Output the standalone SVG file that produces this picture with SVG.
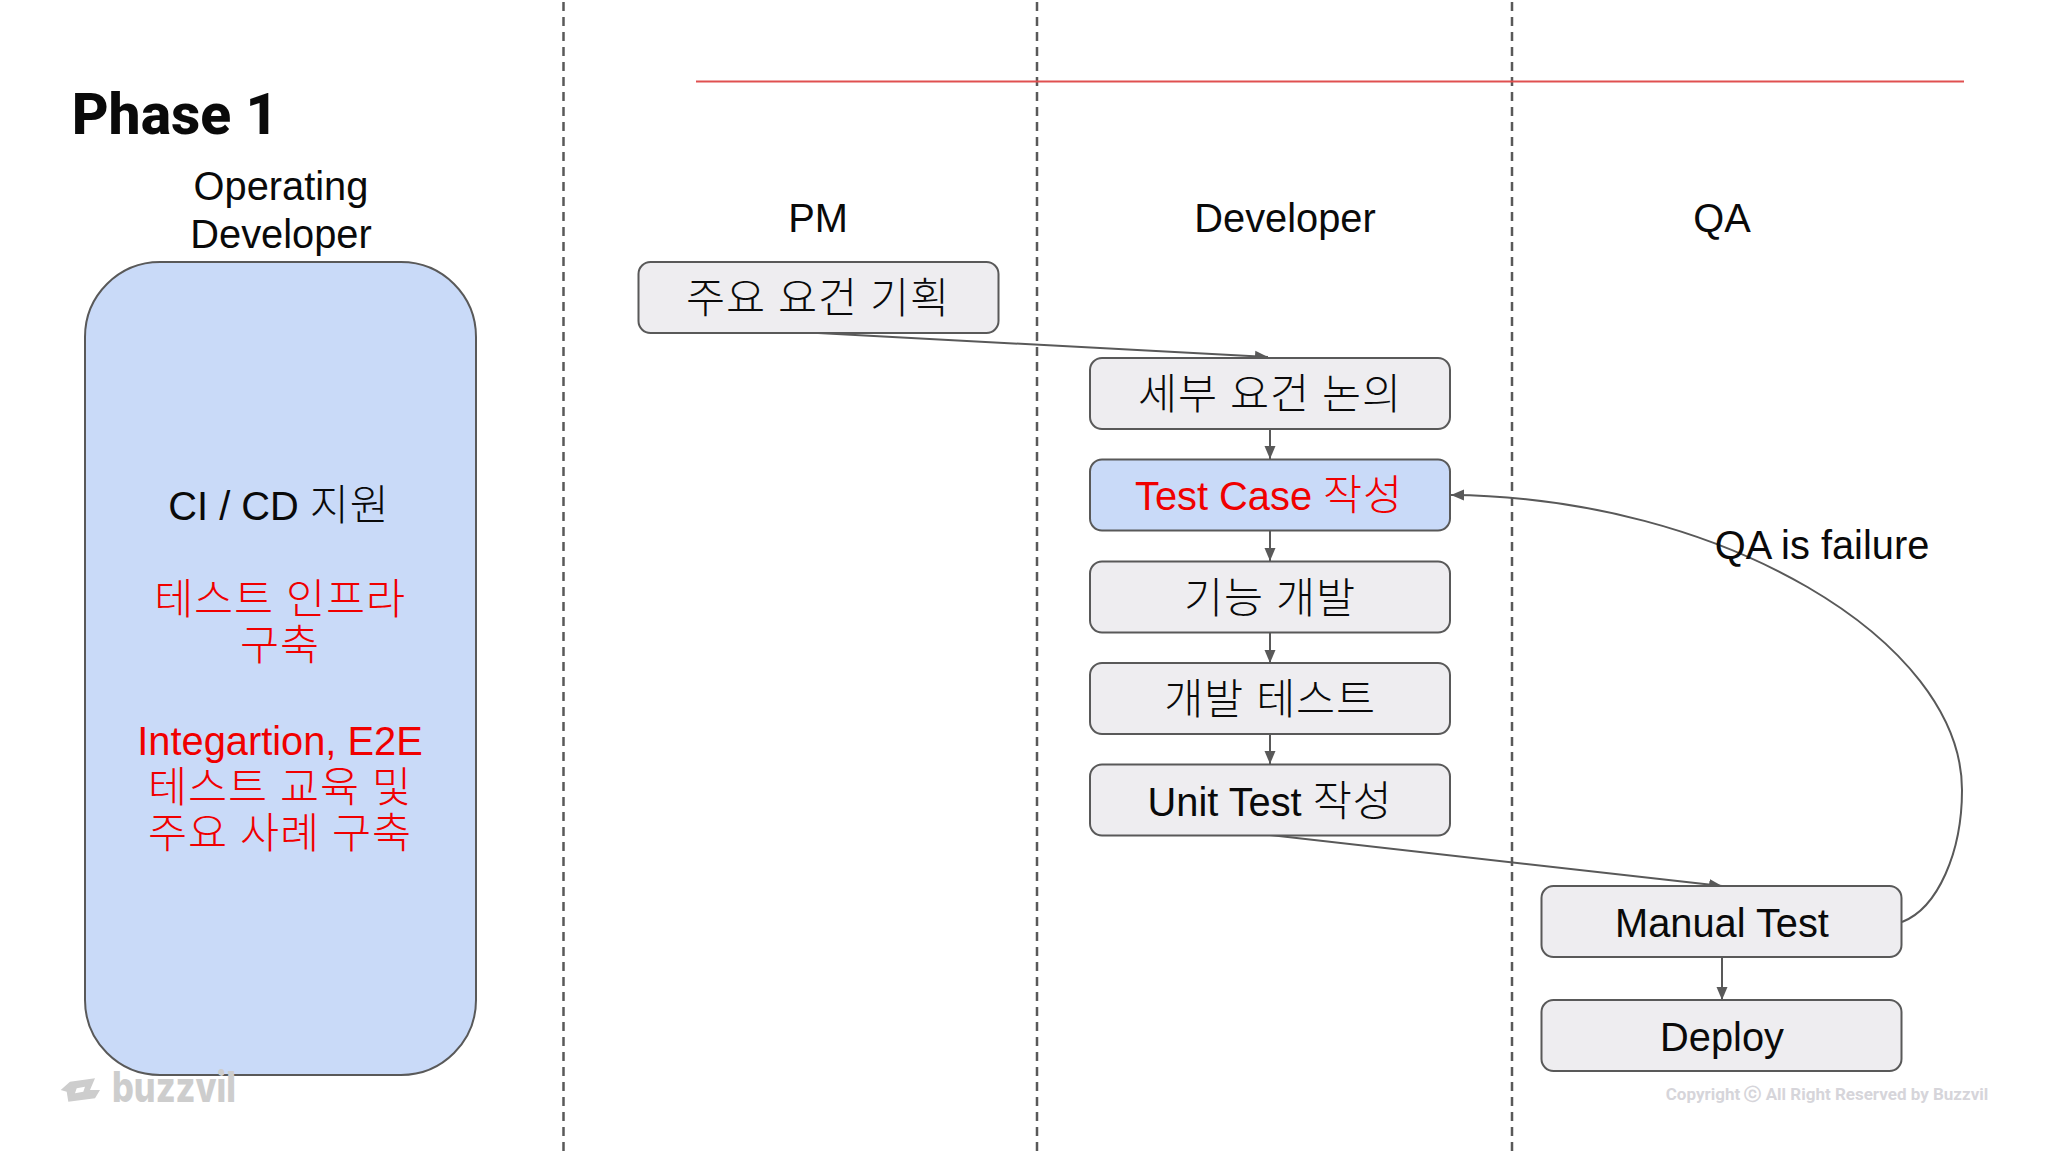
<svg xmlns="http://www.w3.org/2000/svg" width="2048" height="1152" viewBox="0 0 2048 1152">
<style>
text{font-family:"Liberation Sans","Noto Sans CJK KR",sans-serif;text-anchor:middle;font-size:39.800px;fill:#0a0a0a}
.k{font-family:"Noto Sans CJK KR",sans-serif;font-weight:300;font-size:42.500px;letter-spacing:.8px;word-spacing:2px}
.n{fill:#eeedf0;stroke:#595959;stroke-width:2}
.b{fill:#c9daf8;stroke:#595959;stroke-width:2}
.r{fill:#f00000}
.c{fill:none;stroke:#595959;stroke-width:2}
.d{fill:none;stroke:#595959;stroke-width:2.500;stroke-dasharray:9 6}
.t{font-family:Roboto,sans-serif;font-weight:800;font-size:57px}
.w{font-family:Inter,sans-serif;font-weight:800;font-size:42px;fill:#cdcdcd}
.f{font-family:Roboto,sans-serif;font-weight:700;font-size:17px;fill:#d6d5da}
</style>
<defs><marker id="a" markerUnits="userSpaceOnUse" markerWidth="14" markerHeight="12" refX="13" refY="6" orient="auto"><path d="M0 .5L13 6L0 11.500Z" fill="#595959"/></marker></defs>
<rect width="2048" height="1152" fill="#fff"/>
<g id="lanes">
<path class="d" d="M563.500 2V1152M1037 2V1152M1512 2V1152"/>
<path d="M696 81.500H1964" stroke="#e05050" stroke-width="2" fill="none"/>
</g>
<g id="headings">
<text class="t" x="175" y="134">Phase 1</text>
<text x="281" y="200">Operating</text>
<text x="281" y="248">Developer</text>
<text x="818" y="232">PM</text>
<text x="1285" y="232">Developer</text>
<text x="1722" y="232">QA</text>
</g>
<g id="operating-developer">
<rect class="b" x="85" y="262" width="391" height="813" rx="75"/>
<text x="279" y="520">CI / CD <tspan class="k">지원</tspan></text>
<text class="r k" x="280" y="614">테스트 인프라</text>
<text class="r k" x="280" y="660">구축</text>
<text class="r" x="280" y="755">Integartion, E2E</text>
<text class="r k" x="280" y="802">테스트 교육 및</text>
<text class="r k" x="280" y="848">주요 사례 구축</text>
</g>
<g id="connectors">
<path class="c" marker-end="url(#a)" d="M818 333L1268 357"/>
<path class="c" marker-end="url(#a)" d="M1270 428V459"/>
<path class="c" marker-end="url(#a)" d="M1270 530V561"/>
<path class="c" marker-end="url(#a)" d="M1270 632V663"/>
<path class="c" marker-end="url(#a)" d="M1270 734V764"/>
<path class="c" marker-end="url(#a)" d="M1270 835L1722 886"/>
<path class="c" marker-end="url(#a)" d="M1722 957V1000"/>
<path class="c" marker-end="url(#a)" d="M1902 922C1938 908 1962 852 1962 790C1962 640 1720 497 1451 495"/>
</g>
<g id="n1"><rect class="n" x="638.500" y="262" width="360" height="71" rx="12"/><text class="k" x="818" y="313">주요 요건 기획</text></g>
<g id="n2"><rect class="n" x="1090" y="358" width="360" height="71" rx="12"/><text class="k" x="1270" y="409">세부 요건 논의</text></g>
<g id="n3"><rect class="b" x="1090" y="459.500" width="360" height="71" rx="12"/><text class="r" x="1269" y="509.500">Test Case <tspan class="k">작성</tspan></text></g>
<g id="n4"><rect class="n" x="1090" y="561.500" width="360" height="71" rx="12"/><text class="k" x="1270" y="613">기능 개발</text></g>
<g id="n5"><rect class="n" x="1090" y="663" width="360" height="71" rx="12"/><text class="k" x="1270" y="714">개발 테스트</text></g>
<g id="n6"><rect class="n" x="1090" y="764.500" width="360" height="71" rx="12"/><text x="1270" y="815.500">Unit Test <tspan class="k">작성</tspan></text></g>
<g id="n7"><rect class="n" x="1541.500" y="886" width="360" height="71" rx="12"/><text x="1722" y="937">Manual Test</text></g>
<g id="n8"><rect class="n" x="1541.500" y="1000" width="360" height="71" rx="12"/><text x="1722" y="1051">Deploy</text></g>
<text x="1822" y="559">QA is failure</text>
<g id="watermark">
<path fill="#cdcdcd" fill-rule="evenodd" d="M70 1081.700L95 1078.300L90 1090L100 1090L95 1098.300L68.300 1101.700L66.700 1091.700L60.700 1090ZM76.700 1088.300L85 1086.700L83.300 1091.700L75 1093.300Z"/>
<text class="w" x="174" y="1102" textLength="124" lengthAdjust="spacingAndGlyphs">buzzvil</text>
<text class="f" x="1827" y="1100">Copyright ⓒ All Right Reserved by Buzzvil</text>
</g>
</svg>
